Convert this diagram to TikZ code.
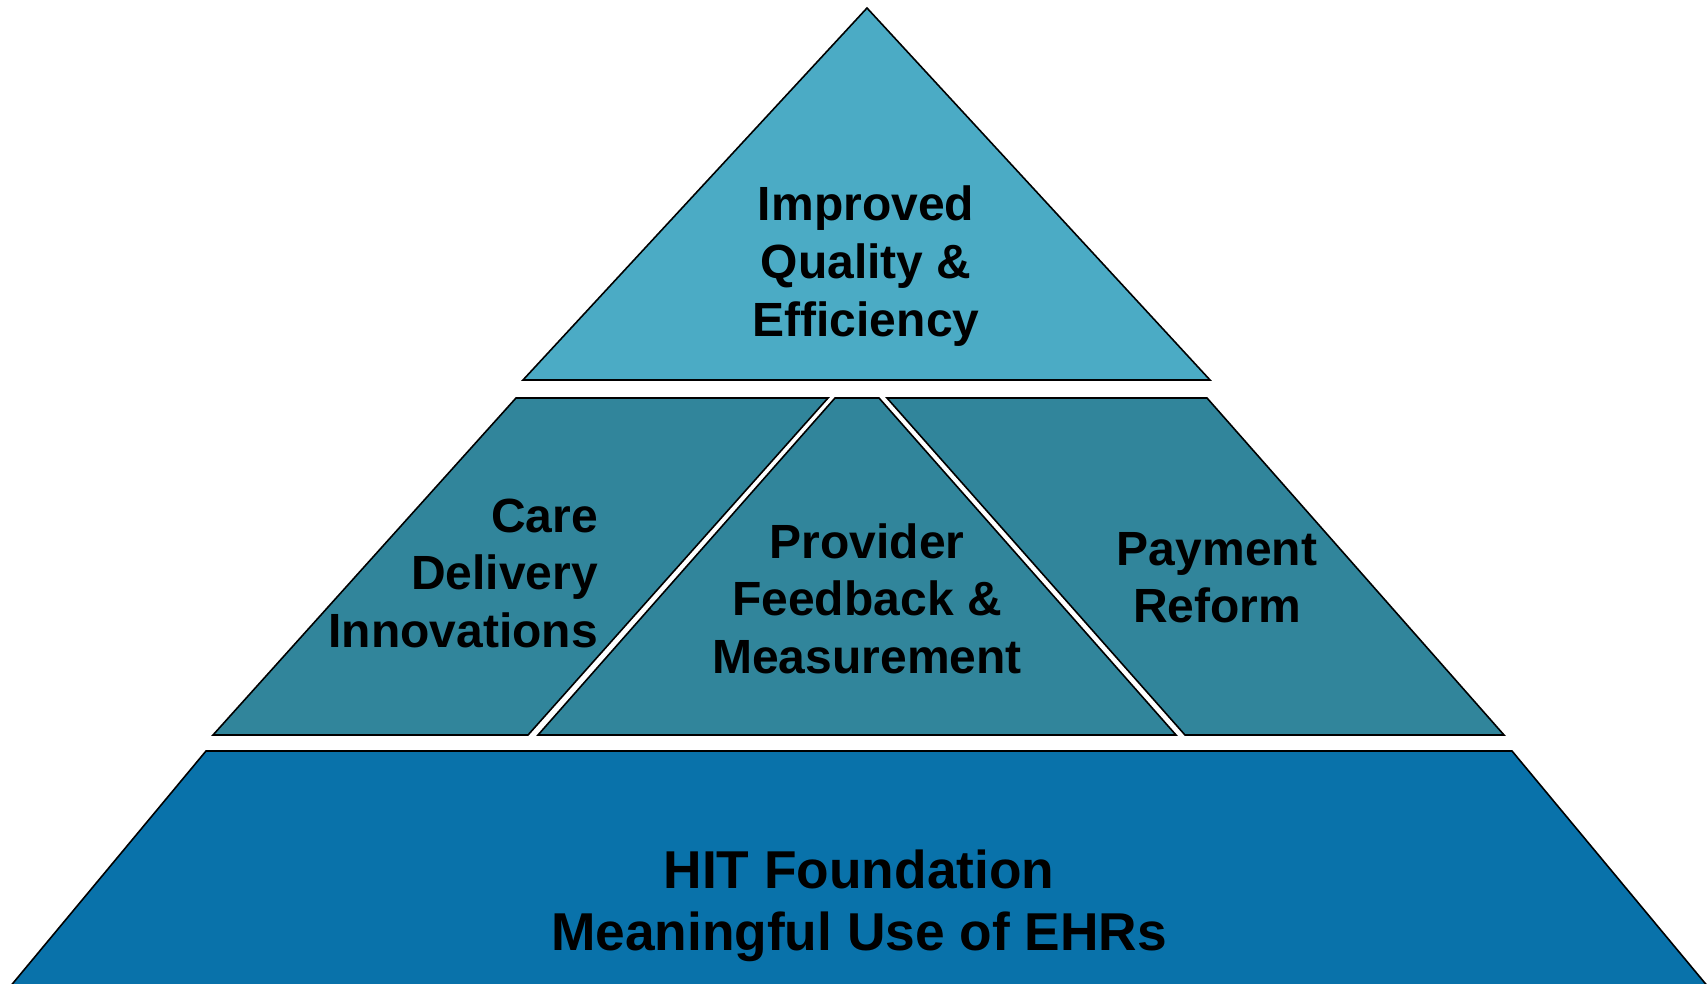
\documentclass[tikz,border=0pt]{standalone}
\usepackage{fontspec}
\setmainfont{Liberation Sans}
\definecolor{tierTop}{RGB}{75,171,197}
\definecolor{tierMid}{RGB}{49,133,155}
\definecolor{tierBase}{RGB}{9,114,170}
\tikzset{
  block/.style={draw=black, line width=1.6pt, line join=miter},
  lbl/.style={inner sep=0pt, anchor=base, font=\fontsize{48}{57.6}\selectfont\bfseries},
  lblbig/.style={inner sep=0pt, anchor=base, font=\fontsize{53.3}{62}\selectfont\bfseries},
}
\begin{document}
\begin{tikzpicture}[x=1pt,y=-1pt]
\useasboundingbox (0,0) rectangle (1707,983);

% apex tier
\filldraw[block, fill=tierTop] (867,8) -- (1210,380) -- (523,380) -- cycle;

% middle tier: three pieces
\filldraw[block, fill=tierMid] (516,398) -- (828,398) -- (528,735) -- (213,735) -- cycle;
\filldraw[block, fill=tierMid] (835,398) -- (879,398) -- (1176,735) -- (538,735) -- cycle;
\filldraw[block, fill=tierMid] (887,398) -- (1207,398) -- (1504,735) -- (1185,735) -- cycle;

% foundation tier
\filldraw[block, fill=tierBase] (206,751) -- (1512,751) -- (1719,1000) -- (-1,1000) -- cycle;

% apex label
\node[lbl] (q1) at (866,220) {Improved};
\node[lbl] (q2) at (866,278) {Quality \&};
\node[lbl] (q3) at (866,336) {Efficiency};

% middle labels
\node[lbl, anchor=base east] (c1) at (598,532) {Care};
\node[lbl, anchor=base east] (c2) at (598,589) {Delivery};
\node[lbl, anchor=base east] (c3) at (598,647) {Innovations};

\node[lbl] (p1) at (867,558) {Provider};
\node[lbl] (p2) at (867,615) {Feedback \&};
\node[lbl] (p3) at (867,673) {Measurement};

\node[lbl] (r1) at (1217,565) {Payment};
\node[lbl] (r2) at (1217,622) {Reform};

% foundation label
\node[lblbig] (h1) at (859,888) {HIT Foundation};
\node[lblbig] (h2) at (859,950) {Meaningful Use of EHRs};
\end{tikzpicture}
\end{document}
